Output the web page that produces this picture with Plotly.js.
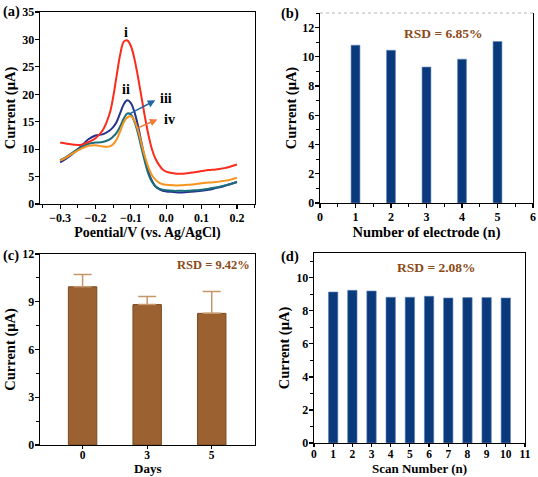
<!DOCTYPE html>
<html>
<head>
<meta charset="utf-8">
<script src="https://cdn.plot.ly/plotly-3.0.1.min.js"></script>
<style>html,body{margin:0;padding:0;background:#fff}#chart{width:538px;height:477px}</style>
</head>
<body>
<div id="chart"></div>
<script>
// Panel (a) DPV curves
const potential = [-0.3,-0.28,-0.26,-0.24,-0.22,-0.2,-0.18,-0.16,-0.15,-0.14,-0.13,-0.12,-0.11,-0.1,-0.09,-0.08,-0.07,-0.06,-0.05,-0.04,-0.03,-0.02,-0.01,0,0.02,0.04,0.06,0.08,0.1,0.12,0.14,0.16,0.18,0.2];
const curveI   = [11.2,11.0,10.8,10.8,11.3,12.0,13.4,16.5,19.5,23.5,27.3,29.6,29.8,28.8,26.5,23.2,19.5,15.8,12.5,9.9,8.2,7.1,6.3,5.9,5.6,5.5,5.6,5.8,6.0,6.2,6.3,6.5,6.8,7.2];
const curveII  = [7.6,8.4,9.4,10.6,11.8,12.5,12.7,13.4,14.0,15.0,16.6,18.2,18.9,18.4,16.8,14.3,11.2,8.2,5.8,4.2,3.2,2.7,2.4,2.3,2.2,2.1,2.2,2.3,2.4,2.6,2.9,3.2,3.6,4.0];
const curveIII = [8.0,8.7,9.6,10.4,11.0,11.2,11.3,11.8,12.3,13.0,14.2,15.6,16.5,16.3,15.0,12.9,10.2,7.6,5.4,4.0,3.2,2.8,2.6,2.5,2.4,2.4,2.4,2.5,2.6,2.8,3.0,3.3,3.6,4.0];
const curveIV  = [7.9,8.6,9.4,10.1,10.6,10.7,10.5,10.5,10.9,11.8,13.3,14.9,15.8,16.0,15.2,13.5,11.0,8.6,6.6,5.2,4.4,3.9,3.6,3.5,3.4,3.4,3.5,3.6,3.8,3.9,4.0,4.2,4.4,4.8];

// Panel (b) reproducibility
const electrodes = [1,2,3,4,5];
const electrodeCurrent = [10.8,10.45,9.3,9.84,11.05];

// Panel (c) stability
const days = ['0','3','5'];
const dayCurrent = [9.94,8.82,8.27];
const dayError = [0.77,0.51,1.38];

// Panel (d) repeated scans
const scans = [1,2,3,4,5,6,7,8,9,10];
const scanCurrent = [9.14,9.24,9.2,8.82,8.82,8.88,8.78,8.8,8.8,8.78];

const FONT = 'Liberation Serif';
const tickFont = {family: FONT, size: 12, color: '#000', weight: 'bold'};
const tickFontSmall = {family: FONT, size: 11.5, color: '#000', weight: 'bold'};
const titleFont = {family: FONT, size: 14.5, color: '#000', weight: 'bold'};
const navy = '#0b3a7c';
const minorTicks = d => ({dtick: d, ticks: 'outside', ticklen: 2.5, tickwidth: 1, tickcolor: '#000'});

function axisBase(extra) {
  return Object.assign({
    showgrid: false, zeroline: false, showline: true, linecolor: '#000', linewidth: 1.3,
    ticks: 'outside', ticklen: 4, tickwidth: 1.2, tickcolor: '#000',
    tickfont: tickFont, mirror: true, ticklabelstandoff: -2
  }, extra);
}

const traces = [
  {x: potential, y: curveII, type: 'scatter', mode: 'lines', line: {color: '#25338e', width: 2, shape: 'spline'}, xaxis: 'x', yaxis: 'y', name: 'ii'},
  {x: potential, y: curveIII, type: 'scatter', mode: 'lines', line: {color: '#1b6e7c', width: 2, shape: 'spline'}, xaxis: 'x', yaxis: 'y', name: 'iii'},
  {x: potential, y: curveIV, type: 'scatter', mode: 'lines', line: {color: '#f7941d', width: 2, shape: 'spline'}, xaxis: 'x', yaxis: 'y', name: 'iv'},
  {x: potential, y: curveI, type: 'scatter', mode: 'lines', line: {color: '#fb2c1c', width: 2, shape: 'spline'}, xaxis: 'x', yaxis: 'y', name: 'i'},
  {x: electrodes, y: electrodeCurrent, type: 'bar', width: 0.25, marker: {color: navy, line: {color: '#5f87c0', width: 0.6}}, xaxis: 'x2', yaxis: 'y2'},
  {x: days, y: dayCurrent, type: 'bar', width: 0.44, marker: {color: '#9b6130', line: {color: '#7a4a22', width: 1}},
   error_y: {type: 'data', symmetric: false, array: dayError, arrayminus: [0,0,0], color: '#c4966a', thickness: 1.5, width: 9},
   xaxis: 'x3', yaxis: 'y3'},
  {x: scans, y: scanCurrent, type: 'bar', width: 0.49, marker: {color: navy, line: {color: '#5f87c0', width: 0.6}}, xaxis: 'x4', yaxis: 'y4'}
];

const layout = {
  width: 538, height: 477,
  margin: {l: 0, r: 0, t: 0, b: 0},
  paper_bgcolor: '#fff', plot_bgcolor: '#fff',
  showlegend: false,
  font: {family: FONT, color: '#000'},
  xaxis: axisBase({domain: [0.0743, 0.474], anchor: 'y', range: [-0.357, 0.251], dtick: 0.1, tick0: 0, tickformat: '.1f',
    minor: minorTicks(0.05),
    title: {text: 'Poential/V (vs. Ag/AgCl)', font: {family: FONT, size: 14, weight: 'bold'}, standoff: 2}}),
  yaxis: axisBase({domain: [0.5723, 0.9748], anchor: 'x', range: [0, 35], dtick: 5,
    title: {text: 'Current (μA)', font: titleFont, standoff: 3}}),
  xaxis2: axisBase({domain: [0.5948, 0.9907], anchor: 'y2', range: [0, 6], dtick: 1, mirror: false,
    minor: minorTicks(0.5),
    title: {text: 'Number of electrode (n)', font: {family: FONT, size: 14.5, weight: 'bold'}, standoff: 1}}),
  yaxis2: axisBase({domain: [0.5744, 0.9727], anchor: 'x2', range: [0, 13], dtick: 2,
    minor: minorTicks(1),
    title: {text: 'Current (μA)', font: titleFont, standoff: 2}}),
  xaxis3: axisBase({domain: [0.0743, 0.474], anchor: 'y3', type: 'category', range: [-0.66, 2.67], ticklen: 3, ticklabelstandoff: -4, tickfont: tickFontSmall}),
  yaxis3: axisBase({domain: [0.0671, 0.4675], anchor: 'x3', range: [0, 12], dtick: 3,
    minor: minorTicks(1.5),
    title: {text: 'Current (μA)', font: titleFont, standoff: 3}}),
  xaxis4: axisBase({domain: [0.5836, 0.9758], anchor: 'y4', range: [0, 11], dtick: 1, ticklen: 3, ticklabelstandoff: -3, tickfont: tickFontSmall}),
  yaxis4: axisBase({domain: [0.0713, 0.4696], anchor: 'x4', range: [0, 11.5], dtick: 2,
    minor: minorTicks(1),
    title: {text: 'Current (μA)', font: titleFont, standoff: 3}}),
  shapes: [
    {type: 'line', xref: 'x2 domain', yref: 'y2 domain', x0: 0, x1: 1, y0: 1, y1: 1, line: {color: '#b5b5b5', width: 1, dash: 'dot'}}
  ],
  annotations: [
    {text: 'Days', xref: 'x3 domain', yref: 'paper', x: 0.5, y: 0, xanchor: 'center', yanchor: 'bottom', borderpad: 0, showarrow: false, font: {family: FONT, size: 13, weight: 'bold'}},
    {text: 'Scan Number (n)', xref: 'x4 domain', yref: 'paper', x: 0.5, y: 0, xanchor: 'center', yanchor: 'bottom', borderpad: 0, showarrow: false, font: {family: FONT, size: 13, weight: 'bold'}},
    {text: '(a)', xref: 'paper', yref: 'paper', x: 1/538, y: 1 - 12/477, xanchor: 'left', yanchor: 'middle', showarrow: false, font: {family: FONT, size: 14.5, weight: 'bold'}},
    {text: '(b)', xref: 'paper', yref: 'paper', x: 279/538, y: 1 - 13/477, xanchor: 'left', yanchor: 'middle', showarrow: false, font: {family: FONT, size: 14.5, weight: 'bold'}},
    {text: '(c)', xref: 'paper', yref: 'paper', x: 1/538, y: 1 - 255/477, xanchor: 'left', yanchor: 'middle', showarrow: false, font: {family: FONT, size: 14.5, weight: 'bold'}},
    {text: '(d)', xref: 'paper', yref: 'paper', x: 279/538, y: 1 - 256/477, xanchor: 'left', yanchor: 'middle', showarrow: false, font: {family: FONT, size: 14.5, weight: 'bold'}},
    {text: 'i', xref: 'x', yref: 'y', x: -0.113, y: 31.3, showarrow: false, font: {family: FONT, size: 14, weight: 'bold'}},
    {text: 'ii', xref: 'x', yref: 'y', x: -0.113, y: 20.9, showarrow: false, font: {family: FONT, size: 14, weight: 'bold'}},
    {text: 'iii', xref: 'x', yref: 'y', x: 0.0, y: 19.3, showarrow: false, font: {family: FONT, size: 14, weight: 'bold'}},
    {text: 'iv', xref: 'x', yref: 'y', x: 0.008, y: 15.4, showarrow: false, font: {family: FONT, size: 14, weight: 'bold'}},
    {text: '', xref: 'x', yref: 'y', axref: 'x', ayref: 'y', x: -0.031, y: 18.9, ax: -0.111, ay: 16.2, showarrow: true, arrowhead: 2, arrowsize: 1, arrowwidth: 1.5, arrowcolor: '#2467a6'},
    {text: '', xref: 'x', yref: 'y', axref: 'x', ayref: 'y', x: -0.025, y: 15.4, ax: -0.083, ay: 13.8, showarrow: true, arrowhead: 2, arrowsize: 1, arrowwidth: 1.5, arrowcolor: '#ef7a3a'},
    {text: 'RSD = 6.85%', xref: 'paper', yref: 'paper', x: 485/538, y: 1 - 24/477, showarrow: false, font: {family: FONT, size: 13.5, color: '#8b4a17', weight: 'bold'}},
    {text: 'RSD = 9.42%', xref: 'paper', yref: 'paper', x: 213/538, y: 1 - 265/477, showarrow: false, font: {family: FONT, size: 12.5, color: '#8b4a17', weight: 'bold'}},
    {text: 'RSD = 2.08%', xref: 'paper', yref: 'paper', x: 478/538, y: 1 - 267/477, showarrow: false, font: {family: FONT, size: 13.5, color: '#8b4a17', weight: 'bold'}}
  ]
};

Plotly.newPlot('chart', traces, layout, {displayModeBar: false, staticPlot: true});
</script>
</body>
</html>
